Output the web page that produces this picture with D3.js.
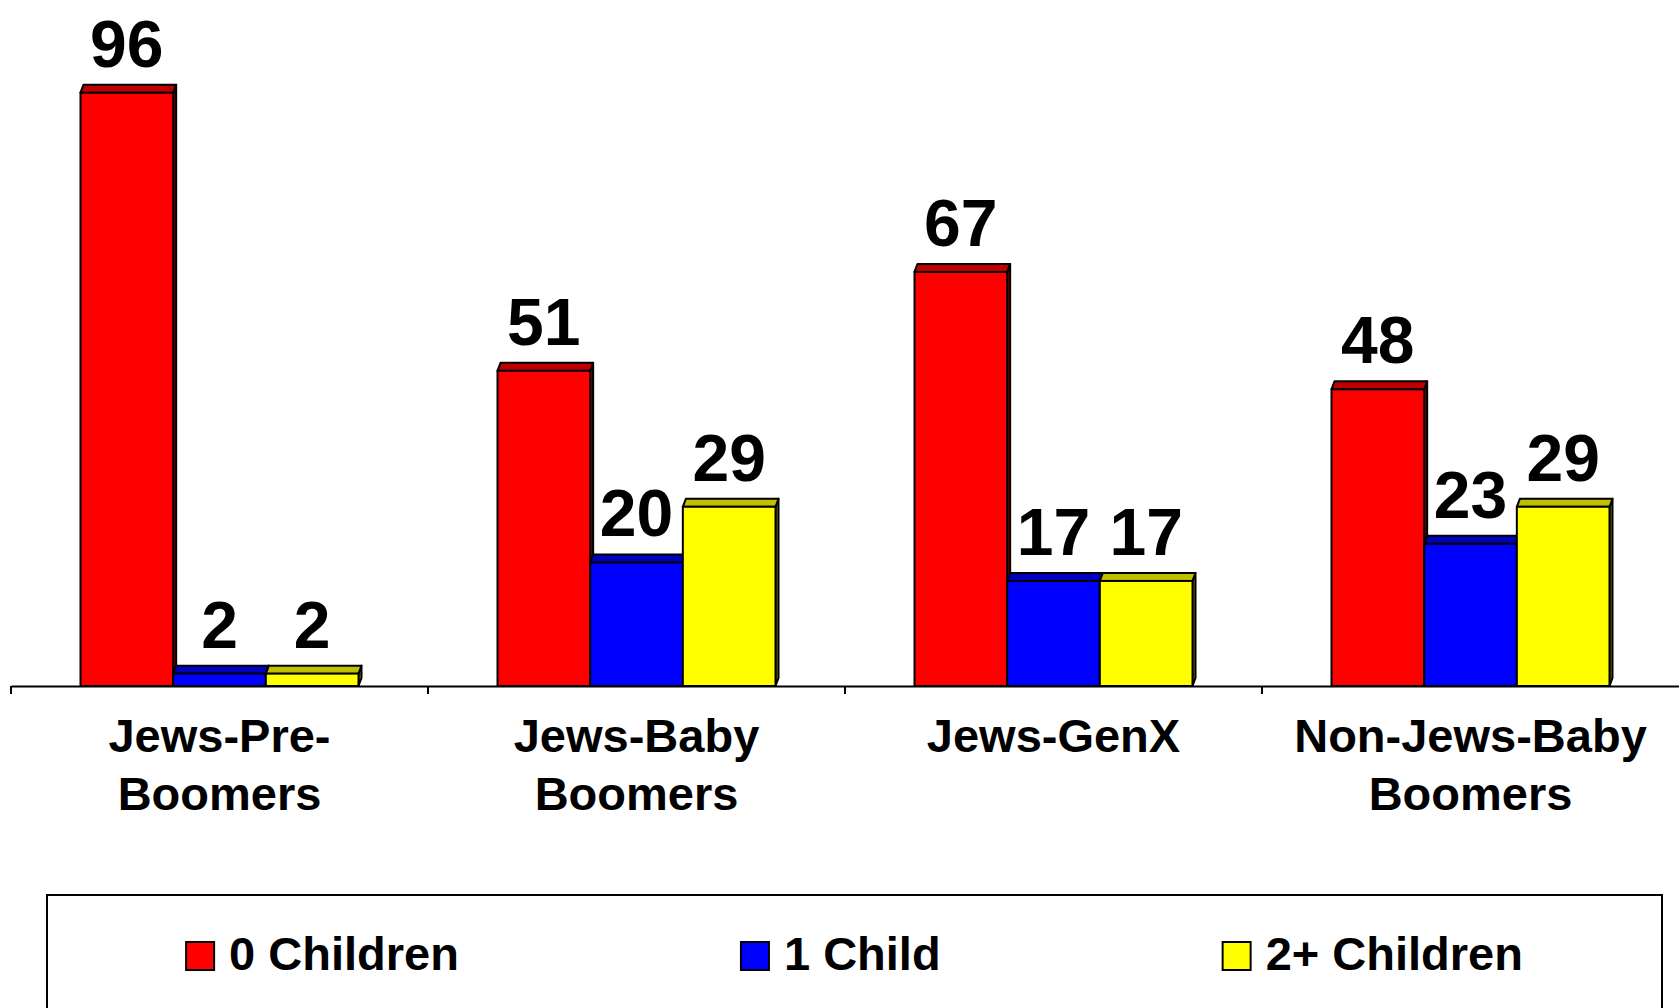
<!DOCTYPE html>
<html>
<head>
<meta charset="utf-8">
<script src="https://cdn.jsdelivr.net/npm/d3@7"></script>
<style>
  body { margin: 0; background: #fff; }
  svg text { font-family: "Liberation Sans", Arial, sans-serif; font-weight: bold; fill: #000; }
</style>
</head>
<body>
<div class="main"></div>
<script>
// chart data
var categories = ["Jews-Pre-Boomers", "Jews-Baby Boomers", "Jews-GenX", "Non-Jews-Baby Boomers"];
var categoryLines = [["Jews-Pre-", "Boomers"], ["Jews-Baby", "Boomers"], ["Jews-GenX"], ["Non-Jews-Baby", "Boomers"]];
var seriesNames = ["0 Children", "1 Child", "2+ Children"];
var zeroChildren = [96, 51, 67, 48];
var oneChild = [2, 20, 17, 23];
var twoPlusChildren = [2, 29, 17, 29];

var width = 1679, height = 1008;
var frontColors = ["#ff0000", "#0000ff", "#ffff00"];
var topColors = ["#c00000", "#0000c0", "#c0c000"];
var sideColors = ["#800000", "#000080", "#808000"];
var depthX = 3, depthY = 8;

var seriesValues = [zeroChildren, oneChild, twoPlusChildren];

var svg = d3.select("div.main").append("svg")
  .attr("width", width)
  .attr("height", height);

var baseY = 686;
var x0 = d3.scaleBand()
  .domain(categories)
  .range([11, 1679])
  .padding(0);

var bw = x0.bandwidth();
var x1 = d3.scaleBand()
  .domain(seriesNames)
  .range([bw / 6, bw * 5 / 6])
  .padding(0);

var y = d3.scaleLinear()
  .domain([0, 100])
  .range([baseY, baseY - 618]);

// axis line + ticks
var axis = d3.axisBottom(x0).tickSize(0).tickFormat("");
svg.append("g")
  .attr("transform", "translate(0," + baseY + ")")
  .call(axis)
  .call(function(g) { g.select(".domain").attr("stroke", "#000").attr("stroke-width", 2); });

svg.append("g").selectAll("line")
  .data(categories)
  .enter().append("line")
  .attr("x1", function(d) { return x0(d); })
  .attr("x2", function(d) { return x0(d); })
  .attr("y1", baseY)
  .attr("y2", baseY + 8)
  .attr("stroke", "#000")
  .attr("stroke-width", 2);

// bars, drawn as small 3d boxes
var groups = svg.append("g").selectAll("g.group")
  .data(categories)
  .enter().append("g")
  .attr("class", "group")
  .attr("transform", function(d) { return "translate(" + x0(d) + ",0)"; });

groups.each(function(cat, ci) {
  var g = d3.select(this);
  seriesNames.forEach(function(s, si) {
    var v = seriesValues[si][ci];
    var xl = x1(s), xr = x1(s) + x1.bandwidth(), yt = y(v);
    // side face
    g.append("path")
      .attr("d", "M" + xr + "," + baseY + "L" + xr + "," + yt + "L" + (xr + depthX) + "," + (yt - depthY) +
        "L" + (xr + depthX) + "," + (baseY - depthY) + "Z")
      .attr("fill", sideColors[si])
      .attr("stroke", "#000")
      .attr("stroke-width", 2)
      .attr("stroke-linejoin", "round");
    // top face
    g.append("path")
      .attr("d", "M" + xl + "," + yt + "L" + (xl + depthX) + "," + (yt - depthY) + "L" + (xr + depthX) + "," + (yt - depthY) +
        "L" + xr + "," + yt + "Z")
      .attr("fill", topColors[si])
      .attr("stroke", "#000")
      .attr("stroke-width", 2)
      .attr("stroke-linejoin", "round");
    // front face
    g.append("rect")
      .attr("x", xl)
      .attr("y", yt)
      .attr("width", x1.bandwidth())
      .attr("height", baseY - yt)
      .attr("fill", frontColors[si])
      .attr("stroke", "#000")
      .attr("stroke-width", 2);
  });
  seriesNames.forEach(function(s, si) {
    var v = seriesValues[si][ci];
    g.append("text")
      .attr("x", x1(s) + x1.bandwidth() / 2)
      .attr("y", y(v) - depthY - 18)
      .attr("text-anchor", "middle")
      .style("font-size", "66px")
      .text(v);
  });
});

// category labels
svg.append("g").selectAll("text")
  .data(categories)
  .enter().append("text")
  .attr("x", function(d) { return x0(d) + bw / 2; })
  .attr("y", 752)
  .attr("text-anchor", "middle")
  .style("font-size", "47px")
  .each(function(d, i) {
    var t = d3.select(this);
    categoryLines[i].forEach(function(line, li) {
      t.append("tspan")
        .attr("x", x0(d) + bw / 2)
        .attr("dy", li === 0 ? 0 : 58)
        .text(line);
    });
  });

// legend
var legendLeft = 47, legendRight = 1662, legendTop = 895;
svg.append("rect")
  .attr("x", legendLeft)
  .attr("y", legendTop)
  .attr("width", legendRight - legendLeft)
  .attr("height", 140)
  .attr("fill", "#fff")
  .attr("stroke", "#000")
  .attr("stroke-width", 2);

var legend = svg.append("g");
var items = legend.selectAll("g.item")
  .data(seriesNames)
  .enter().append("g")
  .attr("class", "item");

items.append("rect")
  .attr("x", 0)
  .attr("y", 942)
  .attr("width", 28)
  .attr("height", 28)
  .attr("fill", function(d, i) { return frontColors[i]; })
  .attr("stroke", "#000")
  .attr("stroke-width", 2);

items.append("text")
  .attr("x", 43)
  .attr("y", 970)
  .style("font-size", "47px")
  .text(function(d) { return d; });

// spread legend items with equal gaps, centred in the box
var gap = 282;
var widths = [];
items.each(function() { widths.push(this.getBBox().width); });
var total = d3.sum(widths) + gap * (widths.length - 1);
var cx = legendLeft + ((legendRight - legendLeft) - total) / 2;
items.attr("transform", function(d, i) {
  var tx = cx;
  cx += widths[i] + gap;
  return "translate(" + tx + ",0)";
});
</script>
</body>
</html>
